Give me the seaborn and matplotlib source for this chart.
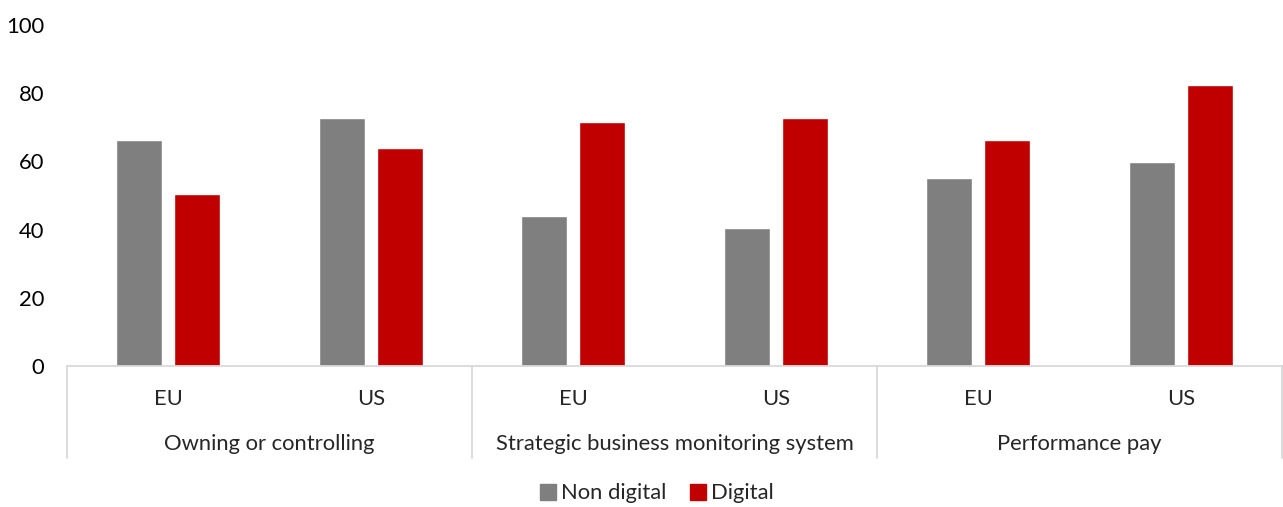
import seaborn as sns
import numpy as np
import matplotlib.pyplot as plt
import pandas as pd
from matplotlib.lines import Line2D

# values
groups = ['Owning or controlling', 'Strategic business monitoring system', 'Performance pay']
regions = ['EU', 'US']
non_digital = [66.2, 72.6, 44.1, 40.5, 55.0, 59.8]
digital = [50.4, 63.8, 71.5, 72.6, 66.2, 82.3]
series = ['Non digital', 'Digital']
colors = ['#7F7F7F', '#C00000']

slots = [g + '|' + r for g in groups for r in regions]
df = pd.DataFrame({
    'slot': slots * 2,
    'series': np.repeat(series, len(slots)),
    'value': non_digital + digital,
})

sns.set_style('white')
plt.rcParams['font.family'] = ['Lato', 'DejaVu Sans']
fs = 15.8

fig = plt.figure(figsize=(12.83, 5.07), dpi=100)
ax = fig.add_axes([0.0522, 0.2781, 0.9470, 0.6726])

sns.barplot(data=df, x='slot', y='value', hue='series', order=slots,
            hue_order=series, palette=colors, width=0.571, gap=0.206,
            saturation=1, legend=False, ax=ax)

ax.set_xlim(-0.5, len(slots) - 0.5)
ax.set_ylim(0, 100)
ax.set_yticks(range(0, 101, 20))
ax.tick_params(axis='y', length=0, labelsize=fs, pad=16.5, colors='#000000')
ax.set_xticks([])
ax.set_xlabel('')
ax.set_ylabel('')
for s in ['top', 'right', 'left']:
    ax.spines[s].set_visible(False)
ax.spines['bottom'].set_color('#D9D9D9')
ax.spines['bottom'].set_linewidth(1.3)

# two-level category axis
for i, s in enumerate(slots):
    ax.text(i, -9.6, s.split('|')[1], ha='center', va='center', fontsize=fs,
            clip_on=False)
for j, g in enumerate(groups):
    ax.text(2 * j + 0.5, -23.0, g, ha='center', va='center', fontsize=fs,
            clip_on=False)
for xb in np.arange(-0.5, len(slots), 2):
    ax.plot([xb, xb], [0, -27], color='#D9D9D9', lw=1.3, clip_on=False)

handles = [Line2D([], [], marker='s', ls='', markersize=11, color=c) for c in colors]
fig.legend(handles, series, loc='center', bbox_to_anchor=(0.51, 0.027),
           ncol=2, frameon=False, fontsize=fs, handletextpad=0.0,
           columnspacing=0.8, handlelength=1.2)

fig.savefig('out.png', dpi=100)
